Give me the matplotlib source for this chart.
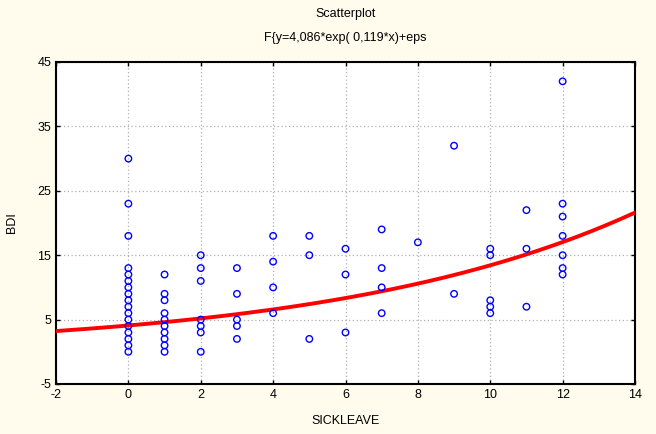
import numpy as np
import matplotlib.pyplot as plt

plt.rcParams['font.family'] = ['Liberation Sans', 'DejaVu Sans']
plt.rcParams['axes.unicode_minus'] = False

# Data: SICKLEAVE (x) and BDI (y), read column by column
sick_0 = [0] * 17
bdi_0 = [30, 23, 18, 13, 12, 11, 10, 9, 8, 7, 6, 5, 4, 3, 2, 1, 0]
sick_1 = [1] * 10
bdi_1 = [12, 9, 8, 6, 5, 4, 3, 2, 1, 0]
sick_2 = [2] * 7
bdi_2 = [15, 13, 11, 5, 4, 3, 0]
sick_3 = [3] * 5
bdi_3 = [13, 9, 5, 4, 2]
sick_4 = [4] * 4
bdi_4 = [18, 14, 10, 6]
sick_5 = [5] * 3
bdi_5 = [18, 15, 2]
sick_6 = [6] * 3
bdi_6 = [16, 12, 3]
sick_7 = [7] * 4
bdi_7 = [19, 13, 10, 6]
sick_8 = [8]
bdi_8 = [17]
sick_9 = [9] * 2
bdi_9 = [32, 9]
sick_10 = [10] * 5
bdi_10 = [16, 15, 8, 7, 6]
sick_11 = [11] * 3
bdi_11 = [22, 16, 7]
sick_12 = [12] * 7
bdi_12 = [42, 23, 21, 18, 15, 13, 12]

sickleave = sick_0 + sick_1 + sick_2 + sick_3 + sick_4 + sick_5 + sick_6 + sick_7 + sick_8 + sick_9 + sick_10 + sick_11 + sick_12
bdi = bdi_0 + bdi_1 + bdi_2 + bdi_3 + bdi_4 + bdi_5 + bdi_6 + bdi_7 + bdi_8 + bdi_9 + bdi_10 + bdi_11 + bdi_12

# fitted model from the title
a, b = 4.086, 0.119

bg = '#fffcee'
fig = plt.figure(figsize=(6.56, 4.34), dpi=100, facecolor=bg)
ax = fig.add_axes([56 / 656, 50 / 434, 579 / 656, 322 / 434])

xs = np.linspace(-2, 14, 300)
ax.plot(xs, a * np.exp(b * xs), color='red', linewidth=2.8, zorder=3)
ax.scatter(sickleave, bdi, s=22, facecolors='none', edgecolors='blue', linewidths=1.0, zorder=4)

ax.set_xlim(-2, 14)
ax.set_ylim(-5, 45)
ax.set_xticks(range(-2, 15, 2))
ax.set_yticks(range(-5, 46, 10))
ax.grid(True, color='#b0b0b0', linestyle=(0, (1, 2)), linewidth=0.9)
ax.tick_params(direction='in', length=3, labelsize=9, top=True, right=True, width=1)
for s in ax.spines.values():
    s.set_linewidth(1.5)

ax.set_xlabel('SICKLEAVE', fontsize=9, labelpad=10)
ax.set_ylabel('BDI', fontsize=9, labelpad=14)

fig.text(345.5 / 656, 1 - 14 / 434, 'Scatterplot', ha='center', va='center', fontsize=9)
fig.text(345.5 / 656, 1 - 38 / 434, 'F{y=4,086*exp( 0,119*x)+eps', ha='center', va='center', fontsize=9)

fig.savefig('out.png', dpi=100, facecolor=bg)
